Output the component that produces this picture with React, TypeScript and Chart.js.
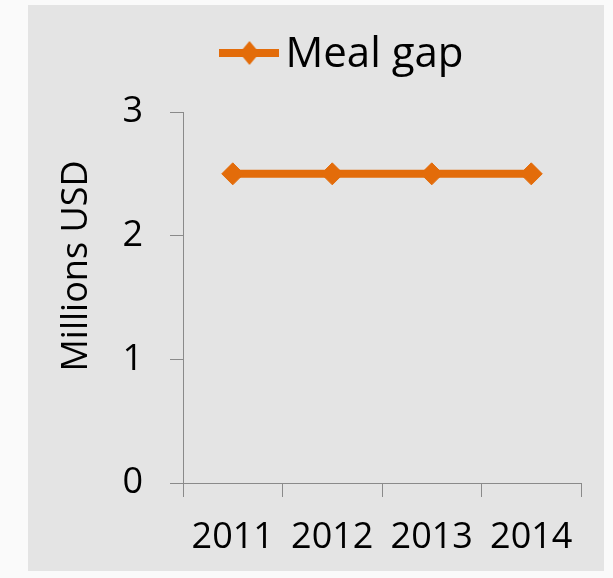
import React, { useEffect, useRef } from "react";
import { Chart, registerables } from "chart.js";

Chart.register(...registerables);

const categories = ["2011", "2012", "2013", "2014"];
const mealGap = [2.5, 2.5, 2.5, 2.5];
const yTicks = [0, 1, 2, 3];
const seriesLabel = "Meal gap";
const yTitle = "Millions USD";

const ORANGE = "#E36C0A";
const AXIS = "#8a8a8a";
const FONT = "'Open Sans', sans-serif";
const PAD_LEFT = 117;
const PAD_TOP = 24;

function makeLegendIcon(): HTMLCanvasElement {
  const c = document.createElement("canvas");
  c.width = 60;
  c.height = 30;
  const ctx = c.getContext("2d")!;
  ctx.strokeStyle = ORANGE;
  ctx.lineWidth = 8;
  ctx.beginPath();
  ctx.moveTo(0, 13);
  ctx.lineTo(60, 13);
  ctx.stroke();
  ctx.fillStyle = ORANGE;
  ctx.beginPath();
  ctx.moveTo(30, 1);
  ctx.lineTo(40, 13);
  ctx.lineTo(30, 25);
  ctx.lineTo(20, 13);
  ctx.closePath();
  ctx.fill();
  return c;
}

const backgroundPlugin = {
  id: "panelBg",
  beforeDraw(chart: any) {
    const ctx = chart.ctx;
    ctx.save();
    ctx.fillStyle = "#fafafa";
    ctx.fillRect(0, 0, chart.width, chart.height);
    ctx.fillStyle = "#e4e4e4";
    ctx.fillRect(28, 5, 576, 566);
    ctx.restore();
  },
};

const yTitlePlugin = {
  id: "yTitle",
  afterDraw(chart: any) {
    const ctx = chart.ctx;
    ctx.save();
    ctx.translate(77, 266);
    ctx.rotate(-Math.PI / 2);
    ctx.font = `36px ${FONT}`;
    ctx.fillStyle = "#000";
    ctx.textAlign = "center";
    ctx.textBaseline = "middle";
    ctx.fillText(yTitle, 0, 0);
    ctx.restore();
  },
};

const legendFitPlugin = {
  id: "legendFit",
  beforeLayout(chart: any) {
    const lg = chart.legend;
    if (lg && !lg._patched) {
      const orig = lg.fit;
      lg.fit = function () {
        orig.call(this);
        this.height = 112 - PAD_TOP;
      };
      lg._patched = true;
    }
  },
};

export default function App() {
  const ref = useRef<HTMLCanvasElement | null>(null);

  useEffect(() => {
    if (!ref.current) return;
    const icon = makeLegendIcon();
    const chart = new Chart(ref.current, {
      type: "line",
      data: {
        labels: categories,
        datasets: [
          {
            label: seriesLabel,
            data: mealGap,
            borderColor: ORANGE,
            backgroundColor: ORANGE,
            borderWidth: 8,
            pointStyle: "rectRot",
            pointRadius: 11,
            pointBorderWidth: 1,
            pointBackgroundColor: ORANGE,
            pointBorderColor: ORANGE,
            tension: 0,
          },
        ],
      },
      options: {
        responsive: false,
        animation: false,
        layout: { padding: { left: PAD_LEFT, right: 32, top: PAD_TOP, bottom: 0 } },
        plugins: {
          tooltip: { enabled: false },
          legend: {
            position: "top",
            labels: {
              usePointStyle: true,
              pointStyleWidth: 30,
              padding: 10,
              color: "#000",
              font: { family: FONT, size: 42 },
              generateLabels: () => [
                {
                  text: seriesLabel,
                  pointStyle: icon as any,
                  fillStyle: ORANGE,
                  strokeStyle: ORANGE,
                  lineWidth: 0,
                  hidden: false,
                  datasetIndex: 0,
                },
              ],
            },
          },
        },
        scales: {
          x: {
            type: "category",
            offset: true,
            grid: {
              offset: true,
              drawOnChartArea: false,
              drawTicks: true,
              tickLength: 14,
              color: AXIS,
              lineWidth: 1,
            },
            border: { display: true, color: AXIS, width: 1 },
            ticks: {
              color: "#000",
              font: { family: FONT, size: 36 },
              padding: 19,
              maxRotation: 0,
            },
            afterFit: (s: any) => {
              s.height = 95;
            },
          },
          y: {
            min: 0,
            max: 3,
            grid: {
              drawOnChartArea: false,
              drawTicks: true,
              tickLength: 13,
              color: AXIS,
              lineWidth: 1,
            },
            border: { display: true, color: AXIS, width: 1 },
            ticks: {
              color: "#000",
              font: { family: FONT, size: 36 },
              padding: 27,
            },
            afterBuildTicks: (s: any) => {
              s.ticks = yTicks.map((v) => ({ value: v }));
            },
            afterFit: (s: any) => {
              s.width = 183 - PAD_LEFT;
            },
          },
        },
      },
      plugins: [backgroundPlugin, yTitlePlugin, legendFitPlugin],
    });
    return () => chart.destroy();
  }, []);

  return (
    <div style={{ position: "absolute", left: 0, top: 0, width: 613, height: 578 }}>
      <canvas ref={ref} width={613} height={578} style={{ display: "block" }} />
    </div>
  );
}
